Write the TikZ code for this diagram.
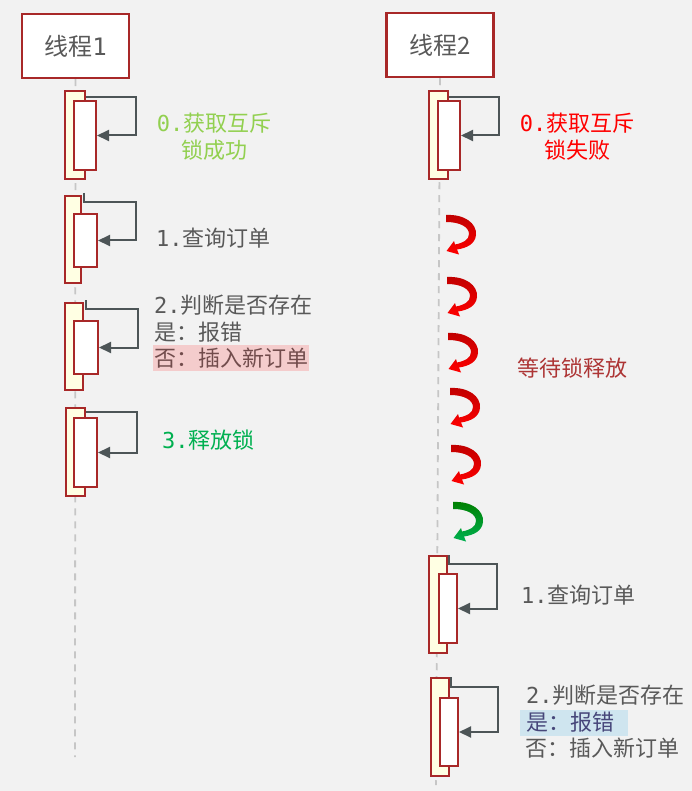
\documentclass[tikz,border=0pt]{standalone}
\usepackage{fontspec}
\setmainfont{Noto Sans CJK SC}
\newfontfamily\monof{DejaVu Sans Mono}
\usetikzlibrary{arrows.meta,calc}
\definecolor{bg}{HTML}{F2F2F2}
\definecolor{boxred}{HTML}{A82828}
\definecolor{actfill}{HTML}{FFFFE3}
\definecolor{txtgray}{HTML}{595959}
\definecolor{arrgray}{HTML}{4D5557}
\definecolor{lifegray}{HTML}{C6C6C6}
\definecolor{lgreen}{HTML}{92D050}
\definecolor{dgreen}{HTML}{00B050}
\definecolor{pinkhl}{HTML}{F4CCCC}
\definecolor{bluehl}{HTML}{CFE5EF}
\definecolor{waitred}{HTML}{AD3535}
\tikzset{
  titlebox/.style={draw=boxred, line width=2.5pt, fill=white, inner sep=0pt,
    minimum width=107pt, minimum height=64pt, text=txtgray,
    font=\fontsize{24}{28}\selectfont},
  lifeline/.style={draw=lifegray, line width=1.8pt, dash pattern=on 7pt off 6pt},
  outerbar/.style={draw=boxred, line width=2pt, fill=actfill, inner sep=0pt},
  innerbar/.style={draw=boxred, line width=2pt, fill=white, inner sep=0pt},
  selfcall/.style={draw=arrgray, line width=2pt, -{Triangle[length=12pt,width=11pt]}},
  lbl/.style={inner sep=0pt, font=\fontsize{22}{27}\selectfont, text=txtgray},
  hl/.style={inner xsep=1pt, inner ysep=0pt, minimum height=26pt, font=\fontsize{22}{27}\selectfont},
  curl/.pic={
    \path[pic actions] (0,0) .. controls (18,-1) and (31,8) .. (30,20)
      .. controls (29,29) and (21,33) .. (11,34.5) -- (13,39.5) -- (0.5,36)
      -- (8,26) -- (9,29.5) .. controls (17,28) and (23,25) .. (23,19)
      .. controls (23,12) and (14,7) .. (0,7) -- cycle;
  },
  redcurl/.style={top color=red!75!black, bottom color=red, draw=none},
  greencurl/.style={top color=green!50!black, bottom color=dgreen, draw=none},
}
\begin{document}
\begin{tikzpicture}[x=1pt,y=-1pt]
\useasboundingbox (0,0) rectangle (692,791);
\fill[bg] (0,0) rectangle (692,791);

% titles
\node[titlebox] (t1) at (75.5,46) {线程{\monof 1}};
\node[titlebox] (t2) at (440,45) {线程2};

% lifelines
\coordinate (e1) at (75,757);
\coordinate (e2) at (436,785);
\draw[lifeline] (t1.south) -- (e1);
\draw[lifeline] (t2.south) -- (e2);

% thread 1 activations
\node[outerbar, minimum width=20pt, minimum height=88pt] (a0) at (75,135) {};
\node[innerbar, minimum width=22pt, minimum height=69pt] (b0) at (85,135.5) {};
\node[outerbar, minimum width=16pt, minimum height=87pt] (a1) at (73,239.5) {};
\node[innerbar, minimum width=23pt, minimum height=53pt] (b1) at (85.5,240.5) {};
\node[outerbar, minimum width=18pt, minimum height=87pt] (a2) at (74,346.5) {};
\node[innerbar, minimum width=24pt, minimum height=53pt] (b2) at (86,347.5) {};
\node[outerbar, minimum width=19pt, minimum height=88pt] (a3) at (75.5,452) {};
\node[innerbar, minimum width=23pt, minimum height=69pt] (b3) at (85.5,452.5) {};

\draw[selfcall] ($(a0.north east)+(0,7)$) -- ++(50,0) |- (b0.east);
\draw[selfcall] ($(a1.north east)+(2,-2)$) -- ++(0,9) -- ++(52,0) |- (b1.east);
\draw[selfcall] ($(a2.north east)+(2,-2)$) -- ++(0,9) -- ++(52,0) |- (b2.east);
\draw[selfcall] ($(a3.north east)+(0,5)$) -- ++(51,0) |- (b3.east);

% thread 2 activations
\node[outerbar, minimum width=19pt, minimum height=88pt] (c0) at (438.5,135) {};
\node[innerbar, minimum width=22pt, minimum height=69pt] (d0) at (449,135.5) {};
\node[outerbar, minimum width=18pt, minimum height=97pt] (c1) at (438,604.5) {};
\node[innerbar, minimum width=18pt, minimum height=69pt] (d1) at (448,608.5) {};
\node[outerbar, minimum width=18pt, minimum height=98pt] (c2) at (440,727) {};
\node[innerbar, minimum width=18pt, minimum height=68pt] (d2) at (449,732) {};

\draw[selfcall] ($(c0.north east)+(0,7)$) -- ++(50,0) |- (d0.east);
\draw[selfcall] ($(c1.north east)+(1,0)$) -- ++(0,9) -- ++(48,0) |- (d1.east);
\draw[selfcall] ($(c2.north east)+(1,0)$) -- ++(0,10) -- ++(47,0) |- (d2.east);

% waiting curls
\pic[redcurl] at (446,215) {curl};
\pic[redcurl] at (447,277) {curl};
\pic[redcurl] at (448,333) {curl};
\pic[redcurl] at (450,388) {curl};
\pic[redcurl] at (451,445) {curl};
\pic[greencurl] at (453,502) {curl};

% labels thread 1
\node[lbl, text=lgreen, align=center] (l0) at (214,136.5) {{\monof 0.}获取互斥\\锁成功};
\node[lbl, anchor=west] (l1) at (156,238) {{\monof 1.}查询订单};
\node[lbl, anchor=west] (l2a) at (154,305) {{\monof 2.}判断是否存在};
\node[lbl, anchor=west] (l2b) at (154,332) {是：报错};
\node[hl, anchor=west, fill=pinkhl, text=txtgray!85!red] (l2c) at (153,358) {否：插入新订单};
\node[lbl, anchor=west, text=dgreen] (l3) at (162,440) {{\monof 3.}释放锁};

% labels thread 2
\node[lbl, text=red, align=center] (r0) at (577,136.5) {{\monof 0.}获取互斥\\锁失败};
\node[lbl, text=waitred] (w) at (572,368) {等待锁释放};
\node[lbl, anchor=west] (r1) at (521,595) {{\monof 1.}查询订单};
\node[lbl, anchor=west] (r2a) at (526,695) {{\monof 2.}判断是否存在};
\node[hl, anchor=west, fill=bluehl, text=txtgray!80!blue, minimum width=108pt, text width=104pt] (r2b) at (520,722.5) {\hspace*{4pt}是：报错};
\node[lbl, anchor=west] (r2c) at (525,748) {否：插入新订单};
\end{tikzpicture}
\end{document}
